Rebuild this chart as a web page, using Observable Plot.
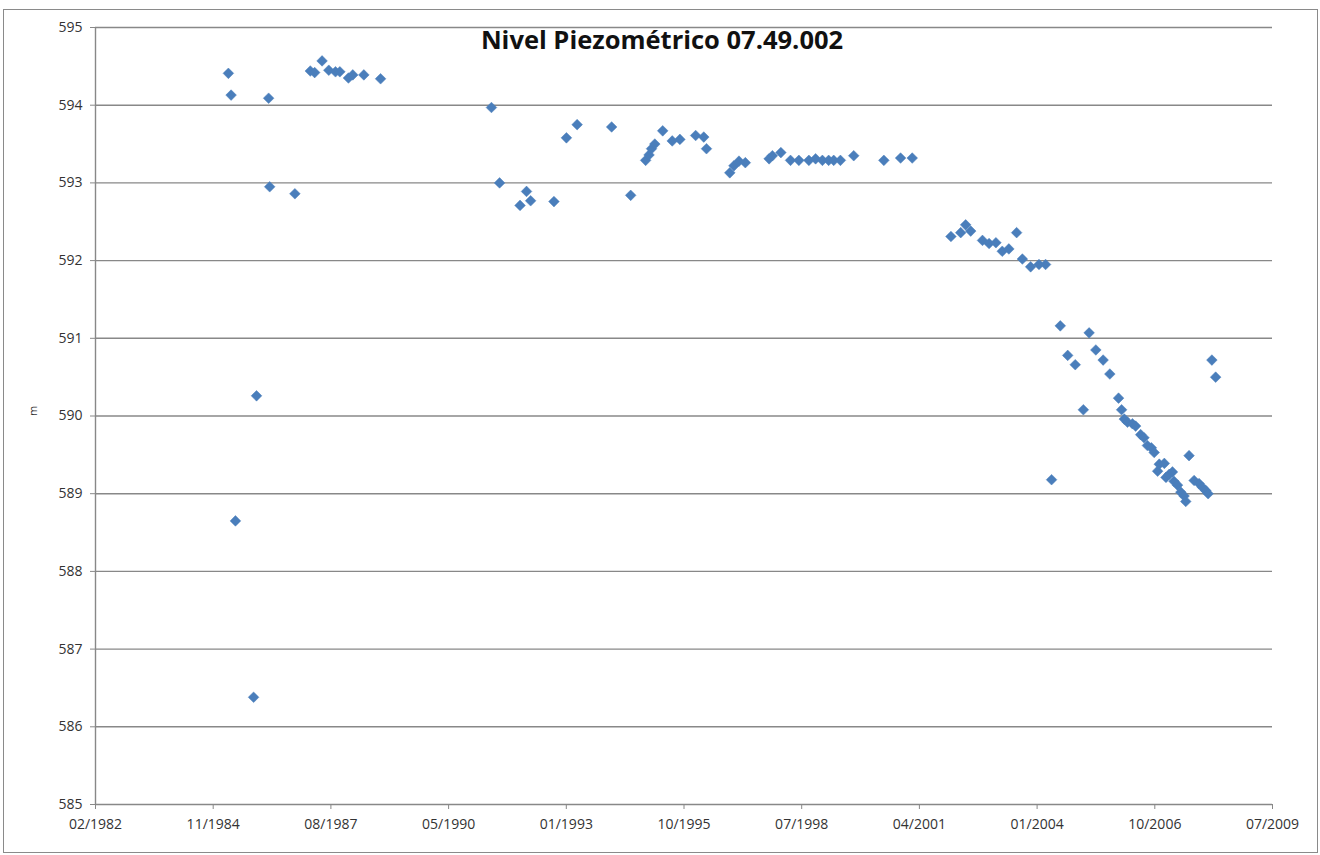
<!DOCTYPE html>
<html>
<head>
<meta charset="utf-8">
<script src="https://cdn.jsdelivr.net/npm/d3@7"></script>
<script src="https://cdn.jsdelivr.net/npm/@observablehq/plot@0.6"></script>
<style>
  html, body { margin: 0; padding: 0; background: #fff; }
  #wrap { position: relative; width: 1320px; height: 855px; overflow: hidden; }
  #border { position: absolute; left: 3px; top: 9px; width: 1313px; height: 842px; border: 1.5px solid #8a8a8a; pointer-events: none; }
  #chart { position: absolute; left: 0; top: 0; }
</style>
</head>
<body>
<div id="wrap">
  <div id="chart"></div>
  <div id="border"></div>
</div>
<script>
const title = "Nivel Piezométrico 07.49.002";
const yLabel = "m";

const dates = [
  "1985-03-23","1985-04-15","1985-05-22","1985-10-23","1985-11-17","1986-02-28","1986-03-09","1986-10-09",
  "1987-02-17","1987-03-26","1987-05-28","1987-07-24","1987-09-19","1987-10-26","1988-01-07","1988-02-13",
  "1988-05-17","1988-10-06",
  "1991-05-06","1991-07-14","1992-01-04","1992-02-28","1992-04-03","1992-10-18","1993-02-01","1993-05-03",
  "1994-02-20","1994-08-01","1994-12-06","1995-01-04","1995-01-25","1995-02-22","1995-04-30","1995-07-20",
  "1995-09-23","1996-02-04","1996-04-13","1996-05-06","1996-11-20","1996-12-25","1997-02-06","1997-04-01",
  "1997-10-20","1997-11-17","1998-01-28","1998-04-20","1998-06-30","1998-09-23","1998-11-19","1999-01-16",
  "1999-03-10","1999-04-22","1999-06-18","1999-10-09","2000-06-21","2000-11-10","2001-02-17",
  "2002-01-12","2002-04-05","2002-05-17","2002-06-29","2002-10-07","2002-12-02","2003-01-29","2003-03-24",
  "2003-05-19","2003-07-24","2003-09-11","2003-11-20","2004-01-30","2004-03-26","2004-05-16","2004-07-29",
  "2004-09-30","2004-12-03","2005-02-10","2005-03-31","2005-05-27","2005-07-28","2005-09-23","2005-12-06",
  "2006-01-01","2006-01-24","2006-02-20","2006-04-03","2006-04-30","2006-06-12","2006-07-10","2006-08-08",
  "2006-09-11","2006-10-05","2006-11-03","2006-11-17","2006-12-30","2007-01-13","2007-02-10","2007-03-09",
  "2007-03-22","2007-04-21","2007-05-19","2007-06-16","2007-06-30","2007-07-28","2007-09-09","2007-10-21",
  "2007-11-20","2007-12-17","2008-01-06","2008-02-07","2008-03-10"
];
const levels = [
  594.41,594.13,588.65,586.38,590.26,594.09,592.95,592.86,
  594.44,594.42,594.57,594.45,594.43,594.43,594.35,594.39,
  594.39,594.34,
  593.97,593.00,592.71,592.89,592.77,592.76,593.58,593.75,
  593.72,592.84,593.29,593.36,593.44,593.50,593.67,593.54,
  593.56,593.61,593.59,593.44,593.13,593.22,593.28,593.26,
  593.31,593.35,593.39,593.29,593.29,593.29,593.31,593.29,
  593.29,593.29,593.29,593.35,593.29,593.32,593.32,
  592.31,592.36,592.46,592.38,592.26,592.22,592.23,592.12,
  592.15,592.36,592.02,591.92,591.95,591.95,589.18,591.16,
  590.78,590.66,590.08,591.07,590.85,590.72,590.54,590.23,
  590.08,589.96,589.92,589.90,589.87,589.76,589.72,589.62,
  589.59,589.53,589.29,589.38,589.39,589.21,589.25,589.28,
  589.16,589.11,589.02,588.97,588.90,589.49,589.17,589.13,
  589.08,589.04,589.00,590.72,590.50
];

const xStart = "1982-02-18";
const xEnd = "2009-07-06";
const xTickLabels = ["02/1982","11/1984","08/1987","05/1990","01/1993","10/1995","07/1998","04/2001","01/2004","10/2006","07/2009"];
const yTicks = [585,586,587,588,589,590,591,592,593,594,595];

const parse = d3.utcParse("%Y-%m-%d");
const data = dates.map((d, i) => ({date: parse(d), level: levels[i]}));
const start = parse(xStart), end = parse(xEnd);
const xTicks = xTickLabels.map((_, k) => d3.utcDay.offset(start, 1000 * k));

const gridColor = "#888888";
const fontFamily = "'Open Sans', 'DejaVu Sans', sans-serif";

const chart = Plot.plot({
  width: 1320,
  height: 855,
  marginLeft: 95,
  marginRight: 48,
  marginTop: 27,
  marginBottom: 51,
  style: {fontFamily, fontSize: "14px", background: "transparent", color: "#333"},
  x: {type: "utc", domain: [start, end]},
  y: {domain: [585, 595]},
  marks: [
    Plot.ruleY(yTicks.slice(1), {stroke: gridColor, strokeWidth: 1.4}),
    Plot.ruleY([585], {stroke: gridColor, strokeWidth: 1.4}),
    Plot.ruleX([start], {stroke: gridColor, strokeWidth: 1.4}),
    Plot.axisY({ticks: yTicks, tickSize: 5, tickPadding: 8, label: null, tickFormat: d => String(d), stroke: gridColor, fill: "#333", fontSize: 14}),
    Plot.axisX({ticks: xTicks, tickSize: 5, tickPadding: 10, label: null, tickFormat: (d, i) => xTickLabels[i], stroke: gridColor, fill: "#333", fontSize: 14}),
    Plot.dot(data, {x: "date", y: "level", symbol: "diamond2", r: 4.8, fill: "#4A7EBB", stroke: "#4A7EBB", strokeWidth: 0.5}),
    Plot.text([title], {frameAnchor: "top", dx: -22, dy: 13, lineAnchor: "middle", fontWeight: "bold", fontSize: 25.5, fill: "#111"}),
    Plot.text([yLabel], {frameAnchor: "left", dx: -62, rotate: -90, fontSize: 11, fill: "#333"})
  ]
});
document.getElementById("chart").appendChild(chart);
</script>
</body>
</html>
